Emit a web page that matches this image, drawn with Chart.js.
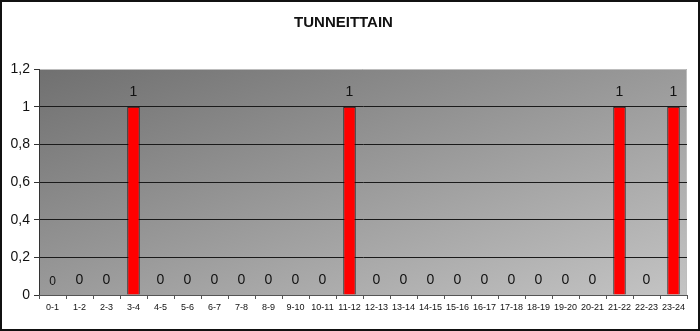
<!DOCTYPE html>
<html>
<head>
<meta charset="utf-8">
<script src="https://cdn.jsdelivr.net/npm/chart.js@4/dist/chart.umd.min.js"></script>
<style>
    html, body { margin: 0; padding: 0; background: #fff; }
    #wrap { width: 700px; height: 331px; position: relative; }
</style>
</head>
<body>
<div id="wrap"><canvas id="hourChart"></canvas></div>
<script>
const hours = ["0-1", "1-2", "2-3", "3-4", "4-5", "5-6", "6-7", "7-8", "8-9", "9-10", "10-11", "11-12",
    "12-13", "13-14", "14-15", "15-16", "16-17", "17-18", "18-19", "19-20", "20-21", "21-22", "22-23", "23-24"];
const counts = [0, 0, 0, 1, 0, 0, 0, 0, 0, 0, 0, 1, 0, 0, 0, 0, 0, 0, 0, 0, 0, 1, 0, 1];
const yTicks = [0, 0.2, 0.4, 0.6, 0.8, 1, 1.2];

const fmt = (v) => String(Math.round(v * 10) / 10).replace(".", ",");

// white page + outer frame + gray gradient plot background
const backdrop = {
    id: "backdrop",
    beforeDraw(chart) {
        const { ctx, width, height, chartArea: a } = chart;
        ctx.save();
        ctx.fillStyle = "#fff";
        ctx.fillRect(0, 0, width, height);
        ctx.strokeStyle = "#111";
        ctx.lineWidth = 2;
        ctx.strokeRect(1, 1, width - 2, height - 2);
        // corner-to-corner: top-right and bottom-left end up the same mid tone
        const w = a.right - a.left, h = a.bottom - a.top;
        const t = (2 * w * h) / (w * w + h * h);
        const g = ctx.createLinearGradient(a.left, a.top, a.left + t * h, a.top + t * w);
        g.addColorStop(0, "#707070");
        g.addColorStop(1, "#c4c4c4");
        ctx.fillStyle = g;
        ctx.fillRect(a.left, a.top, w, h);
        ctx.strokeStyle = "#bdbdbd";
        ctx.lineWidth = 1;
        ctx.beginPath();
        ctx.moveTo(a.left, a.top + 0.5);
        ctx.lineTo(a.right - 0.5, a.top + 0.5);
        ctx.lineTo(a.right - 0.5, a.bottom);
        ctx.stroke();
        ctx.restore();
    }
};

// value labels above each bar
const valueLabels = {
    id: "valueLabels",
    afterDatasetsDraw(chart) {
        const { ctx } = chart;
        const meta = chart.getDatasetMeta(0);
        ctx.save();
        ctx.fillStyle = "#111";
        ctx.textAlign = "center";
        ctx.textBaseline = "middle";
        meta.data.forEach((bar, i) => {
            ctx.font = (i === 0 ? "12px" : "14px") + " 'Liberation Sans', Arial, sans-serif";
            ctx.fillText(fmt(counts[i]), bar.x, bar.y - (i === 0 ? 13 : 15));
        });
        ctx.restore();
    }
};

new Chart(document.getElementById("hourChart").getContext("2d"), {
    type: "bar",
    data: {
        labels: hours,
        datasets: [
            {
                data: counts,
                backgroundColor: "#ff0000",
                borderColor: "#111",
                borderWidth: 1,
                barPercentage: 0.92,
                categoryPercentage: 0.5
            }
        ]
    },
    options: {
        responsive: true,
        maintainAspectRatio: false,
        animation: false,
        layout: { padding: { left: 0, right: 13, top: 0, bottom: 0 } },
        plugins: {
            legend: { display: false },
            tooltip: { enabled: false },
            title: {
                display: true,
                text: "TUNNEITTAIN",
                color: "#111",
                font: { family: "'Liberation Sans', Arial, sans-serif", size: 15, weight: "bold" },
                padding: { top: 14, bottom: 37 }
            }
        },
        scales: {
            y: {
                min: 0,
                max: 1.2,
                afterBuildTicks: (s) => { s.ticks = yTicks.map((v) => ({ value: v })); },
                afterFit: (s) => { s.width = 39; },
                ticks: {
                    color: "#111",
                    padding: 4,
                    font: { family: "'Liberation Sans', Arial, sans-serif", size: 14 },
                    callback: (v) => fmt(v)
                },
                grid: {
                    color: (c) => (c.tick && c.tick.value === 1.2 ? "rgba(0,0,0,0)" : "#1a1a1a"),
                    lineWidth: 1,
                    tickLength: 5,
                    tickColor: "#333"
                },
                border: { color: "#333", width: 1 }
            },
            x: {
                afterFit: (s) => { s.height = 36; },
                ticks: {
                    color: "#111",
                    padding: 3,
                    maxRotation: 0,
                    autoSkip: false,
                    font: { family: "'Liberation Sans', Arial, sans-serif", size: 9 }
                },
                grid: {
                    offset: true,
                    drawOnChartArea: false,
                    tickLength: 4,
                    color: "#555"
                },
                border: { color: "#555", width: 1 }
            }
        }
    },
    plugins: [backdrop, valueLabels]
});
</script>
</body>
</html>
